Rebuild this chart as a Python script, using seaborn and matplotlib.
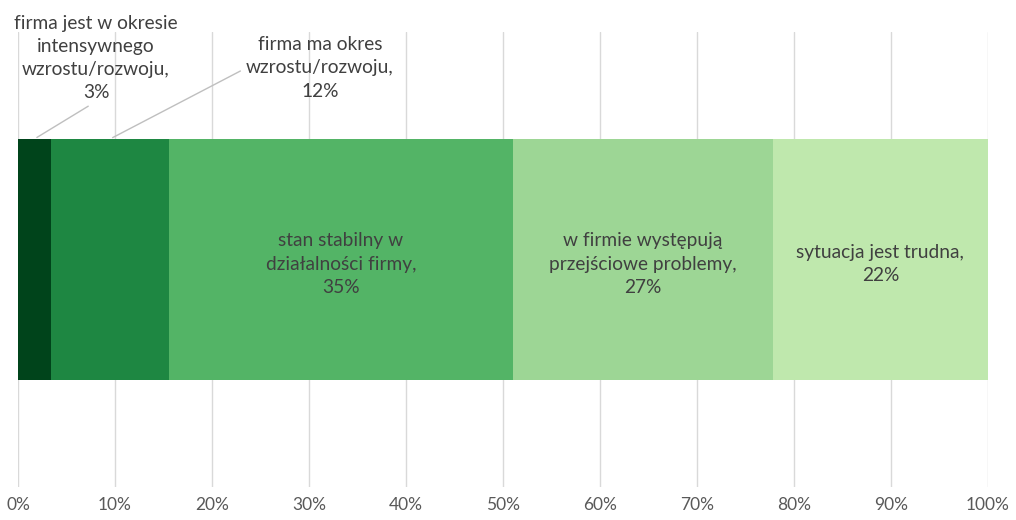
import seaborn as sns
import matplotlib.pyplot as plt
import pandas as pd
import numpy as np

labels = ['firma jest w okresie\nintensywnego\nwzrostu/rozwoju,',
          'firma ma okres\nwzrostu/rozwoju,',
          'stan stabilny w\ndziałalności firmy,',
          'w firmie występują\nprzejściowe problemy,',
          'sytuacja jest trudna,']
values = [3.4, 12.2, 35.4, 26.8, 22.2]
colors = ['#00441b', '#1e8742', '#53b466', '#9dd695', '#bfe8ad']
ticks = [0, 10, 20, 30, 40, 50, 60, 70, 80, 90, 100]

sns.set_style('white')
plt.rcParams['font.family'] = ['Lato', 'DejaVu Sans']

fig = plt.figure(figsize=(10.16, 5.2), dpi=100)
ax = fig.add_axes([18 / 1016, 1 - 487 / 520, 970 / 1016, 455 / 520])

cum = np.cumsum(values)
starts = cum - np.array(values)
# stack by drawing cumulative bars, longest first
for i in range(len(values) - 1, -1, -1):
    df = pd.DataFrame({'v': [cum[i]], 'c': ['a']})
    sns.barplot(data=df, x='v', y='c', color=colors[i], saturation=1,
                width=0.53, ax=ax, zorder=2, linewidth=0)

ax.set_xlim(0, 100)
ax.set_ylim(0.5, -0.5)
ax.set_xticks(ticks)
ax.set_xticklabels(['{}%'.format(t) for t in ticks], color='#595959', fontsize=12.5)
ax.set_yticks([])
ax.set_xlabel('')
ax.set_ylabel('')
ax.tick_params(axis='x', length=0, pad=7)
for t in ticks:
    ax.axvline(t, color='#d9d9d9', lw=1, zorder=0)
for s in ax.spines.values():
    s.set_visible(False)

txt = dict(ha='center', va='center', color='#404040', fontsize=13.8, linespacing=1.45)
for i in range(2, 5):
    ax.text(starts[i] + values[i] / 2, 0.01,
            '{}\n{:.0f}%'.format(labels[i], values[i]), **txt)

# outside labels with leader lines
line = dict(arrowstyle='-', color='#bfbfbf', lw=1)
ax.annotate('{}\n{:.0f}%'.format(labels[0], values[0]),
            xy=(starts[0] + values[0] / 2, -0.265), xycoords='data',
            xytext=(96 / 1016, 1 - 58 / 520), textcoords='figure fraction',
            arrowprops=dict(line, relpos=(0.5, 0.0)), **txt)
ax.annotate('{}\n{:.0f}%'.format(labels[1], values[1]),
            xy=(starts[1] + values[1] / 2, -0.265), xycoords='data',
            xytext=(320 / 1016, 1 - 68 / 520), textcoords='figure fraction',
            arrowprops=dict(line, relpos=(0.0, 0.5)), **txt)

fig.savefig('out.png', dpi=100)
